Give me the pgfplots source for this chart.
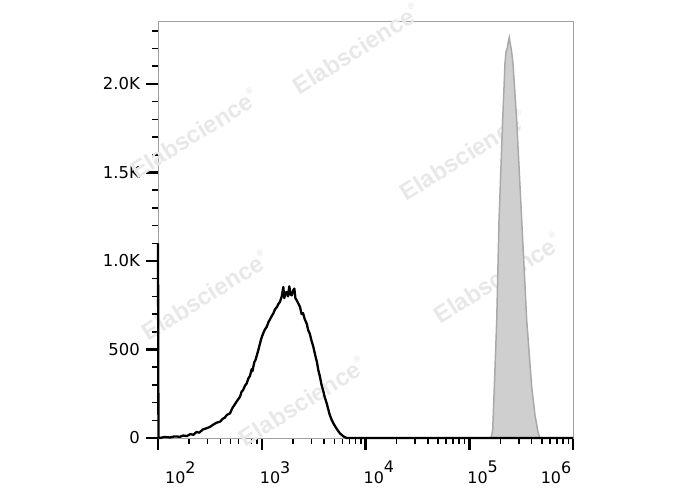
\documentclass[border=0pt]{standalone}
\usepackage{fontspec}
\setmainfont{DejaVu Sans}
\newfontfamily\wmfont{Liberation Sans}
\usepackage{pgfplots}
\pgfplotsset{compat=1.18}
\definecolor{wmgray}{HTML}{E8E8E8}
\definecolor{fillgray}{HTML}{CFCFCF}
\definecolor{edgegray}{HTML}{A9A9A9}
\definecolor{framegray}{HTML}{A0A0A0}
\newcommand{\wm}{{\wmfont\bfseries\fontsize{24}{24}\selectfont Elabscience\raisebox{0.55em}{\fontsize{9}{9}\selectfont\textregistered}}}
\newcommand{\dec}[1]{10\raisebox{10.5bp}{#1}}
\begin{document}
\begin{tikzpicture}
\path[use as bounding box] (0,0) rectangle (688bp,490bp);
\begin{axis}[
  at={(158bp,52bp)}, anchor=south west,
  scale only axis, width=415bp, height=416bp,
  xmode=log, xmin=100, xmax=1e6,
  ymin=0, ymax=2350,
  clip=false,
  axis line style={framegray, line width=1bp},
  tick pos=left, tick align=outside,
  major tick length=12bp, minor tick length=6bp,
  every major tick/.style={black, line width=2.5bp},
  every minor tick/.style={black, line width=1.5bp},
  xtick={1e2,1e3,1e4,1e5,1e6},
  xticklabels={\kern9bp\dec{2},\dec{3},\dec{4},\dec{5},\makebox[0pt][r]{\dec{6}}\kern4bp},
  xticklabel style={anchor=north west, inner sep=0pt, xshift=-2bp, yshift=-11bp, font=\fontsize{16}{16}\selectfont},
  ytick={0,500,1000,1500,2000},
  yticklabels={0,500,1.0K,1.5K,2.0K},
  minor ytick={100,200,300,400,600,700,800,900,1100,1200,1300,1400,1600,1700,1800,1900,2100,2200,2300},
  yticklabel style={font=\fontsize{16.5}{16.5}\selectfont, inner sep=0pt, xshift=-6bp},
]
\node[wmgray, rotate=32] at (axis description cs:0.477,0.936) {\wm};
\node[wmgray, rotate=32] at (axis description cs:0.087,0.733) {\wm};
\node[wmgray, rotate=32] at (axis description cs:0.735,0.680) {\wm};
\node[wmgray, rotate=32] at (axis description cs:0.113,0.344) {\wm};
\node[wmgray, rotate=32] at (axis description cs:0.817,0.385) {\wm};
\node[wmgray, rotate=32] at (axis description cs:0.347,0.089) {\wm};

% gray (stained) histogram
\addplot[fill=fillgray, draw=edgegray, line width=1.5bp] coordinates {
(162000,0)(168300,45)(176000,350)(184000,665)(193600,1230)(209900,1794)(221000,2115)
(226000,2180)(232000,2200)(238000,2240)(243000,2263)(248000,2230)(255000,2190)(264000,2115)
(286600,1794)(320400,1230)(358000,665)(400000,288)(430000,130)(460000,34)(481000,0)
} \closedcycle;

% black (control) histogram
\addplot[black, line width=2.3bp, line join=round] coordinates {
(100,1100)(101,5)(104.5,0)(115,6)(130,3)(145,9)(163,7)(175,14)(190,11)(205,22)(219,18)(235,34)
(250,30)(270,48)(294,55)(315,62)(340,75)(365,86)(396,92)(420,108)(440,115)(465,132)(494,139)
(520,168)(550,190)(585,214)(617,233)(640,262)(660,270)(690,296)(716,308)(745,338)(770,350)
(800,390)(815,378)(829,402)(850,430)(870,440)(900,470)(930,500)(962,534)(995,566)(1030,590)
(1070,612)(1117,628)(1160,655)(1200,670)(1250,690)(1292,703)(1340,726)(1400,740)(1450,758)
(1499,769)(1560,800)(1614,853)(1650,790)(1690,820)(1738,825)(1790,800)(1843,857)(1900,810)
(1946,806)(2014,835)(2061,844)(2110,790)(2173,778)(2250,760)(2336,741)(2420,700)(2500,705)
(2600,670)(2710,647)(2800,610)(2900,590)(3000,555)(3141,515)(3270,470)(3400,430)(3520,380)
(3640,346)(3770,300)(3900,270)(4050,230)(4226,196)(4500,135)(4700,105)(4898,83)(5300,50)
(5675,26)(6100,10)(6590,0)(10000,0)(100000,0)(1000000,0)
};
\end{axis}
\end{tikzpicture}
\end{document}
